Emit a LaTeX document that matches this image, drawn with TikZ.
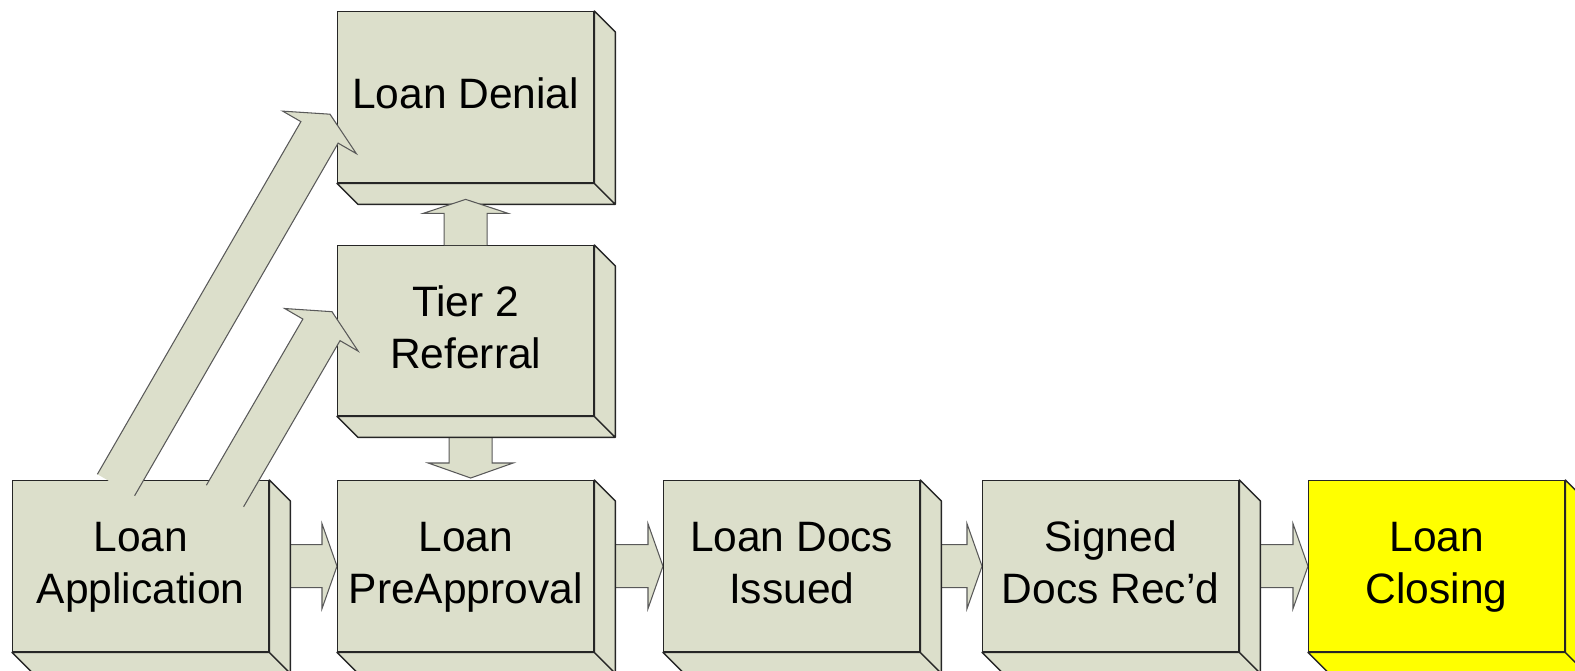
\documentclass[tikz,border=0pt]{standalone}
\usepackage{fontspec}
\setmainfont{Liberation Sans}
\usetikzlibrary{calc,backgrounds}

\definecolor{sage}{RGB}{220,223,203}
\definecolor{closing}{RGB}{255,255,0}

\tikzset{
  stage/.style={draw=black!85, line width=0.8pt, fill=sage, anchor=north west,
    minimum width=5.12cm, minimum height=3.42cm, inner sep=0pt, align=center,
    text height=1.50cm, text depth=0pt,
    font=\fontsize{24.2}{29.5}\selectfont},
  face/.style={draw=black!85, line width=0.8pt, line join=round},
  flowline/.style={draw=black!65, line width=0.6pt, line join=miter},
}

% block arrow: [head length in px]{tail}{tip}
\newcommand\blockarrow[3][15]{%
  \path (#2) coordinate (bt) (#3) coordinate (bp);
  \path ($(bp)!#1*0.02cm!(bt)$) coordinate (bh);
  \path ($(bt)!0.43cm!90:(bp)$) coordinate (t1)
        ($(bt)!0.43cm!-90:(bp)$) coordinate (t2)
        ($(bh)!0.43cm!90:(bp)$) coordinate (s1)
        ($(bh)!0.43cm!-90:(bp)$) coordinate (s2)
        ($(bh)!0.85cm!90:(bp)$) coordinate (w1)
        ($(bh)!0.85cm!-90:(bp)$) coordinate (w2);
  \fill[sage] (t1) -- (s1) -- (w1) -- (bp) -- (w2) -- (s2) -- (t2) -- cycle;
  \draw[flowline] (t1) -- (s1) -- (w1) -- (bp) -- (w2) -- (s2) -- (t2);
}

\begin{document}
\begin{tikzpicture}[x=0.02cm, y=-0.02cm]

  \useasboundingbox (0,0) rectangle (1575,670);

  % stages
  \node[stage, text height=0.46cm] (deny) at (337,11) {Loan Denial};
  \node[stage, minimum height=3.40cm] (tier) at (337,245) {Tier 2\\Referral};
  \node[stage] (app) at (12,480) {Loan\\Application};
  \node[stage] (pre) at (337,480) {Loan\\PreApproval};
  \node[stage] (docs) at (663,480) {Loan Docs\\Issued};
  \node[stage] (signed) at (982,480) {Signed\\Docs Rec’d};
  \node[stage, fill=closing] (close) at (1308,480) {Loan\\Closing};

  % 3D sides
  \foreach \n/\c in {deny/sage, tier/sage, app/sage, pre/sage, docs/sage,
                     signed/sage, close/closing}
    \draw[face, fill=\c] (\n.north east) -- ++(21,21)
        -- ($(\n.south east)+(21,21)$) -- ($(\n.south west)+(21,21)$)
        -- (\n.south west) -- (\n.south east) -- cycle
        (\n.south east) -- ++(21,21);

  % arrows behind the boxes
  \begin{scope}[on background layer]
    \blockarrow{app.east}{pre.west}
    \blockarrow{pre.east}{docs.west}
    \blockarrow{docs.east}{signed.west}
    \blockarrow{signed.east}{close.west}
    \blockarrow{$(tier.south)+(5,0)$}{$(pre.north)+(5,-2)$}
  \end{scope}

  % arrows in front
  \blockarrow[14]{tier.north}{$(deny.south)+(0,16)$}
  \blockarrow[21]{$(app.north west)+(104,5)$}{$(deny.west)+(-7,17)$}
  \blockarrow[21]{$(app.north west)+(213,16)$}{$(tier.west)+(-5,-19)$}

\end{tikzpicture}
\end{document}
